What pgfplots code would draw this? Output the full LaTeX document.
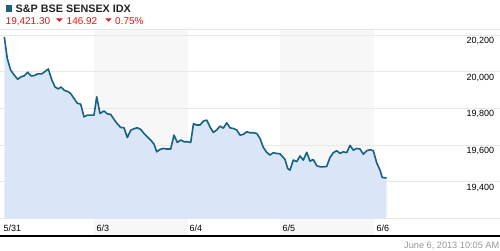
\documentclass[border=0pt]{standalone}
\usepackage{pgfplots}
\pgfplotsset{compat=1.18}
\usepackage{pgfplotstable}
\usepackage{fontspec}
\setmainfont{Liberation Sans}
\definecolor{linec}{RGB}{22,98,128}
\definecolor{fillc}{RGB}{218,230,248}
\definecolor{bandc}{RGB}{247,247,247}
\definecolor{gridc}{RGB}{232,232,232}
\definecolor{redc}{RGB}{232,20,20}
\definecolor{datec}{RGB}{150,150,150}
\definecolor{titlec}{RGB}{34,34,34}

\pgfplotstableread{
t v
4.3 20191
7.3 20073
10.7 20009
14.3 19982
17.7 19960
21 19973
24 19978
27.7 19998
31 19978
34.3 19980
37.7 19989
41.7 19989
45 20002
48.3 20016
51.7 19958
55 19918
58.3 19907
61 19918
64.3 19899
67.7 19893
70.7 19882
74 19855
77.3 19829
80.7 19824
84 19755
87.3 19764
90.7 19764
94 19764
96.7 19864
100 19773
104 19787
107.3 19771
110.7 19768
114 19741
117.3 19717
120.7 19697
124 19695
127.3 19642
130.7 19681
134 19690
137.3 19695
140.7 19686
144 19664
147.3 19646
150.7 19628
154 19606
156.7 19564
160 19577
163.3 19582
166.7 19579
170.7 19579
174 19655
177.3 19615
180.7 19628
184 19619
187.3 19619
190.7 19615
193.5 19717
196.7 19710
200 19710
203.3 19731
206.7 19737
210 19700
213.3 19670
216.7 19683
220 19704
223.3 19693
226.7 19722
230 19695
233.3 19691
236.7 19683
240 19655
243.3 19659
246.7 19673
250 19668
253.3 19668
256.7 19664
260 19637
263.3 19588
266.7 19561
270 19546
273.3 19559
276.7 19555
280 19553
283.3 19533
285 19522
287.7 19473
290 19464
293.3 19519
296.7 19510
300 19541
303.3 19519
306.7 19561
310 19513
313.3 19522
316.7 19488
320 19482
323.3 19482
326.7 19484
330 19533
333.3 19559
336.7 19570
340 19555
343.3 19564
346.7 19559
350 19599
353.3 19573
356.7 19582
360 19579
363.3 19551
366.7 19570
370 19575
373.3 19570
376.7 19504
380 19464
382.3 19424
386.5 19421
}\sensex

\begin{document}
\begin{tikzpicture}[x=1pt,y=1pt]
\useasboundingbox (0pt,0pt) rectangle (500pt,250pt);
% day bands
\fill[bandc] (94pt,14pt) rectangle (188pt,221pt);
\fill[bandc] (280pt,14pt) rectangle (374pt,221pt);
\begin{axis}[
  at={(0pt,31.5pt)}, anchor=south west,
  scale only axis, width=500pt, height=189.5pt,
  xmin=0, xmax=500, ymin=19200, ymax=20234,
  axis line style={draw=none},
  scaled y ticks=false, scaled x ticks=false,
  ytick={19200,19400,19600,19800,20000,20200},
  yticklabels={{},{19,400},{19,600},{19,800},{20,000},{20,200}},
  ymajorgrids, grid style={gridc, line width=0.8pt},
  major tick length=0pt,
  yticklabel pos=right,
  yticklabel style={anchor=base east, inner sep=0pt, xshift=-5.7pt, yshift=-8.2pt, font=\fontsize{9}{9}\selectfont},
  xtick={1,94,187,280,374},
  xticklabels={5/31,6/3,6/4,6/5,6/6},
  xticklabel style={anchor=base west, inner sep=0pt, xshift=2.5pt, yshift=-12.5pt, font=\fontsize{9}{9}\selectfont},
  clip=false,
]
\addplot[fill=fillc, draw=none] table[x=t,y=v]{\sensex} \closedcycle;
\addplot[linec, line width=1.6pt, line join=round, no marks] table[x=t,y=v]{\sensex};
\end{axis}
% frame lines
\draw[gridc, line width=0.8pt] (0pt,221pt) -- (500pt,221pt);
\draw[black, line width=2pt] (0pt,13.7pt) -- (500pt,13.7pt);
% header
\fill[linec] (6pt,238pt) rectangle (12pt,245pt);
\node[anchor=base west, inner sep=0pt, text=titlec, font=\fontsize{10.8}{11}\selectfont\bfseries] at (15.5pt,237.7pt) {S\&P BSE SENSEX IDX};
\node[anchor=base west, inner sep=0pt, text=redc, font=\fontsize{10}{10}\selectfont] at (5.5pt,225.7pt) {19,421.30};
\fill[redc] (56pt,231.7pt) -- (62.7pt,231.7pt) -- (59.35pt,228.3pt) -- cycle;
\node[anchor=base west, inner sep=0pt, text=redc, font=\fontsize{10}{10}\selectfont] at (66.5pt,225.7pt) {146.92};
\fill[redc] (105.3pt,231.7pt) -- (111.7pt,231.7pt) -- (108.5pt,228.3pt) -- cycle;
\node[anchor=base west, inner sep=0pt, text=redc, font=\fontsize{10}{10}\selectfont] at (115pt,225.7pt) {0.75\%};
% timestamp
\node[anchor=base east, inner sep=0pt, text=datec, font=\fontsize{9.2}{9}\selectfont] at (499.5pt,2pt) {June 6, 2013 10:05 AM};
\end{tikzpicture}
\end{document}
